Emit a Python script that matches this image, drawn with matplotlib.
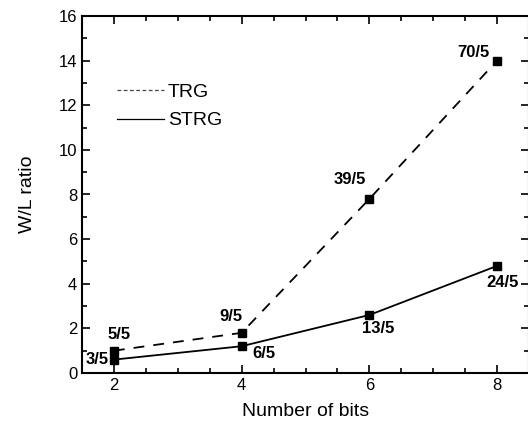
import matplotlib.pyplot as plt
from matplotlib.lines import Line2D
from matplotlib.ticker import MultipleLocator

plt.rcParams['font.family'] = ['Liberation Sans', 'DejaVu Sans']

# data
bits = [2, 4, 6, 8]
trg = [1.0, 1.8, 7.8, 14.0]
strg = [0.6, 1.2, 2.6, 4.8]
trg_labels = ['5/5', '9/5', '39/5', '70/5']
strg_labels = ['3/5', '6/5', '13/5', '24/5']

fig = plt.figure(figsize=(5.28, 4.23), dpi=100)
ax = fig.add_axes([82 / 528, 50 / 423, 447 / 528, 357 / 423])

ax.plot(bits, trg, color='black', lw=1.3, ls=(0, (6, 5)), marker='s', ms=6)
ax.plot(bits, strg, color='black', lw=1.3, ls='-', marker='s', ms=6)

# point labels (offsets in points)
trg_off = [(4, 12), (-8, 12), (-14, 14), (-17, 6)]
strg_off = [(-12, 0), (16, -5), (6, -10), (4, -12)]
for x, y, t, o in zip(bits, trg, trg_labels, trg_off):
    ax.annotate(t, (x, y), xytext=o, textcoords='offset points',
                ha='center', va='center', fontsize=12, fontweight='bold')
for x, y, t, o in zip(bits, strg, strg_labels, strg_off):
    ax.annotate(t, (x, y), xytext=o, textcoords='offset points',
                ha='center', va='center', fontsize=12, fontweight='bold')

ax.set_xlim(1.5, 8.5)
ax.set_ylim(0, 16)
ax.xaxis.set_major_locator(MultipleLocator(2))
ax.xaxis.set_minor_locator(MultipleLocator(0.5))
ax.yaxis.set_major_locator(MultipleLocator(2))
ax.yaxis.set_minor_locator(MultipleLocator(1))
ax.tick_params(which='both', direction='in', top=True, right=True,
               labelsize=12, width=1.2)
ax.tick_params(which='major', length=6)
ax.tick_params(which='minor', length=3.5)
for s in ax.spines.values():
    s.set_linewidth(1.5)

ax.set_xlabel('Number of bits', fontsize=14, labelpad=7)
ax.set_ylabel('W/L ratio', fontsize=14, labelpad=16)

handles = [Line2D([], [], color='#444444', lw=0.9, ls=(0, (3, 2))),
           Line2D([], [], color='black', lw=0.9, ls='-')]
ax.legend(handles, ['TRG', 'STRG'], loc='upper left', bbox_to_anchor=(0.04, 0.86),
          frameon=False, fontsize=14, handlelength=2.4, handletextpad=0.2,
          labelspacing=0.55)

fig.savefig('out.png', dpi=100)
